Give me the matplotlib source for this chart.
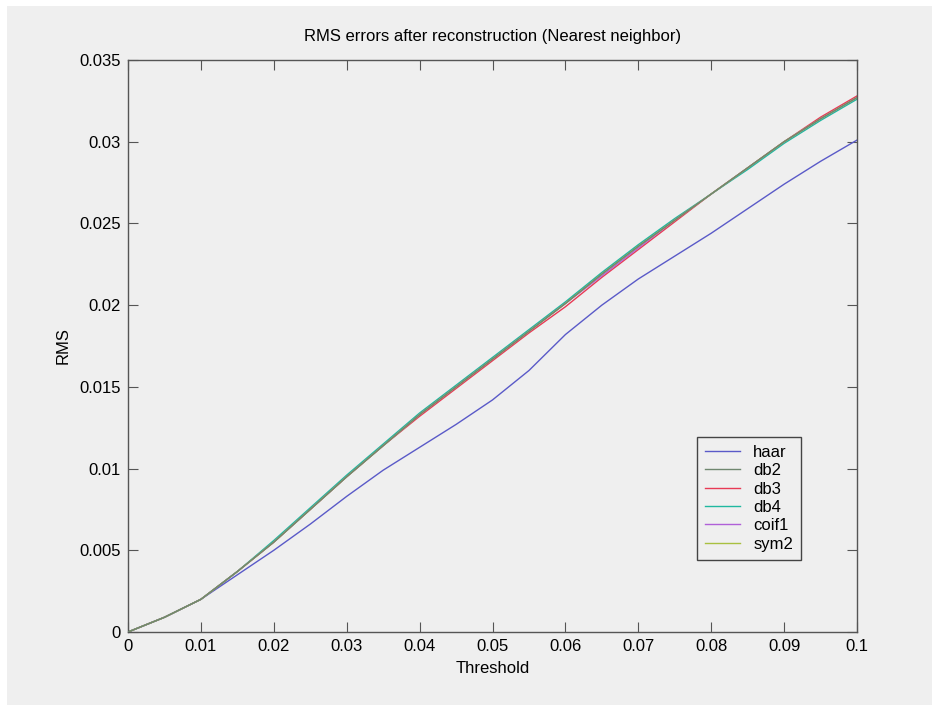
import matplotlib
matplotlib.use('Agg')
import matplotlib.pyplot as plt
from matplotlib.patches import Rectangle

# ---- Data ----
threshold = [0.0, 0.005, 0.01, 0.015, 0.02, 0.025, 0.03, 0.035, 0.04, 0.045, 0.05,
             0.055, 0.06, 0.065, 0.07, 0.075, 0.08, 0.085, 0.09, 0.095, 0.1]

haar = [0.0, 0.0009, 0.0020, 0.0035, 0.0050, 0.0066, 0.0083, 0.0099, 0.0113, 0.0127, 0.0142,
        0.0160, 0.0182, 0.0200, 0.0216, 0.0230, 0.0244, 0.0259, 0.0274, 0.0288, 0.0301]
db2 = [0.0, 0.0009, 0.0020, 0.0037, 0.0055, 0.0075, 0.0095, 0.0114, 0.0133, 0.0150, 0.0167,
       0.0184, 0.0201, 0.0219, 0.0236, 0.0252, 0.0268, 0.0284, 0.0300, 0.0314, 0.0327]
db3 = [0.0, 0.0009, 0.0020, 0.0037, 0.0055, 0.0075, 0.0095, 0.0114, 0.0132, 0.0149, 0.0166,
       0.0183, 0.0199, 0.0217, 0.0234, 0.0251, 0.0268, 0.0284, 0.0300, 0.0315, 0.0328]
db4 = [0.0, 0.0009, 0.0020, 0.0037, 0.0056, 0.0076, 0.0096, 0.0115, 0.0134, 0.0151, 0.0168,
       0.0185, 0.0202, 0.0220, 0.0237, 0.0253, 0.0268, 0.0283, 0.0299, 0.0313, 0.0326]
coif1 = [0.0, 0.0009, 0.0020, 0.0037, 0.0055, 0.0075, 0.0095, 0.0114, 0.0133, 0.0150, 0.0167,
         0.0184, 0.0201, 0.0218, 0.0235, 0.0252, 0.0268, 0.0284, 0.0300, 0.0314, 0.0327]
sym2 = [0.0, 0.0009, 0.0020, 0.0037, 0.0055, 0.0075, 0.0095, 0.0114, 0.0133, 0.0150, 0.0167,
        0.0184, 0.0201, 0.0219, 0.0236, 0.0252, 0.0268, 0.0284, 0.0300, 0.0314, 0.0327]

names = ['haar', 'db2', 'db3', 'db4', 'coif1', 'sym2']
series = [haar, db2, db3, db4, coif1, sym2]
colors = ['#5a5ac8', '#6f876f', '#e83a55', '#20b8a0', '#b060d8', '#a8c040']
zorders = [2, 3, 2, 2, 2, 2]

xticks = [0, 0.01, 0.02, 0.03, 0.04, 0.05, 0.06, 0.07, 0.08, 0.09, 0.1]
xticklabels = ['0', '0.01', '0.02', '0.03', '0.04', '0.05', '0.06', '0.07', '0.08', '0.09', '0.1']
yticks = [0, 0.005, 0.01, 0.015, 0.02, 0.025, 0.03, 0.035]
yticklabels = ['0', '0.005', '0.01', '0.015', '0.02', '0.025', '0.03', '0.035']

BG = '#efefef'
plt.rcParams.update({
    'font.family': ['Liberation Sans', 'DejaVu Sans'],
    'font.size': 12,
})

fig = plt.figure(figsize=(9.33, 7.05), dpi=100, facecolor='white')
# grey panel with thin white strip at left / top, like the screenshot
fig.patches.append(Rectangle((7 / 933, 0), 1 - 8 / 933, 1 - 6 / 705,
                             transform=fig.transFigure, facecolor=BG,
                             edgecolor='none', zorder=-10))

ax = fig.add_axes([128 / 933, 1 - 632 / 705, 729 / 933, 572 / 705])
ax.set_facecolor(BG)

for name, vals, c, z in zip(names, series, colors, zorders):
    ax.plot(threshold, vals, color=c, linewidth=1.0, label=name, zorder=z)

ax.set_xlim(0, 0.1)
ax.set_ylim(0, 0.035)
ax.set_xticks(xticks)
ax.set_xticklabels(xticklabels)
ax.set_yticks(yticks)
ax.set_yticklabels(yticklabels)
ax.tick_params(direction='in', length=7, width=0.8, color='#555555',
               top=True, right=True, labelsize=12, pad=5)
for s in ax.spines.values():
    s.set_color('#555555')
    s.set_linewidth(1.0)

ax.set_title('RMS errors after reconstruction (Nearest neighbor)', fontsize=12, pad=14)
ax.set_xlabel('Threshold', fontsize=12, labelpad=5)
ax.set_ylabel('RMS', fontsize=12, labelpad=6)

leg = ax.legend(loc='lower left', bbox_to_anchor=(0.78, 0.126), fancybox=False,
                frameon=True, edgecolor='#444444', facecolor=BG, framealpha=1,
                handlelength=2.1, handletextpad=0.8, borderpad=0.5,
                labelspacing=0.2, borderaxespad=0, fontsize=12)
leg.get_frame().set_linewidth(1.0)

fig.savefig('out.png', dpi=100, facecolor=fig.get_facecolor())
